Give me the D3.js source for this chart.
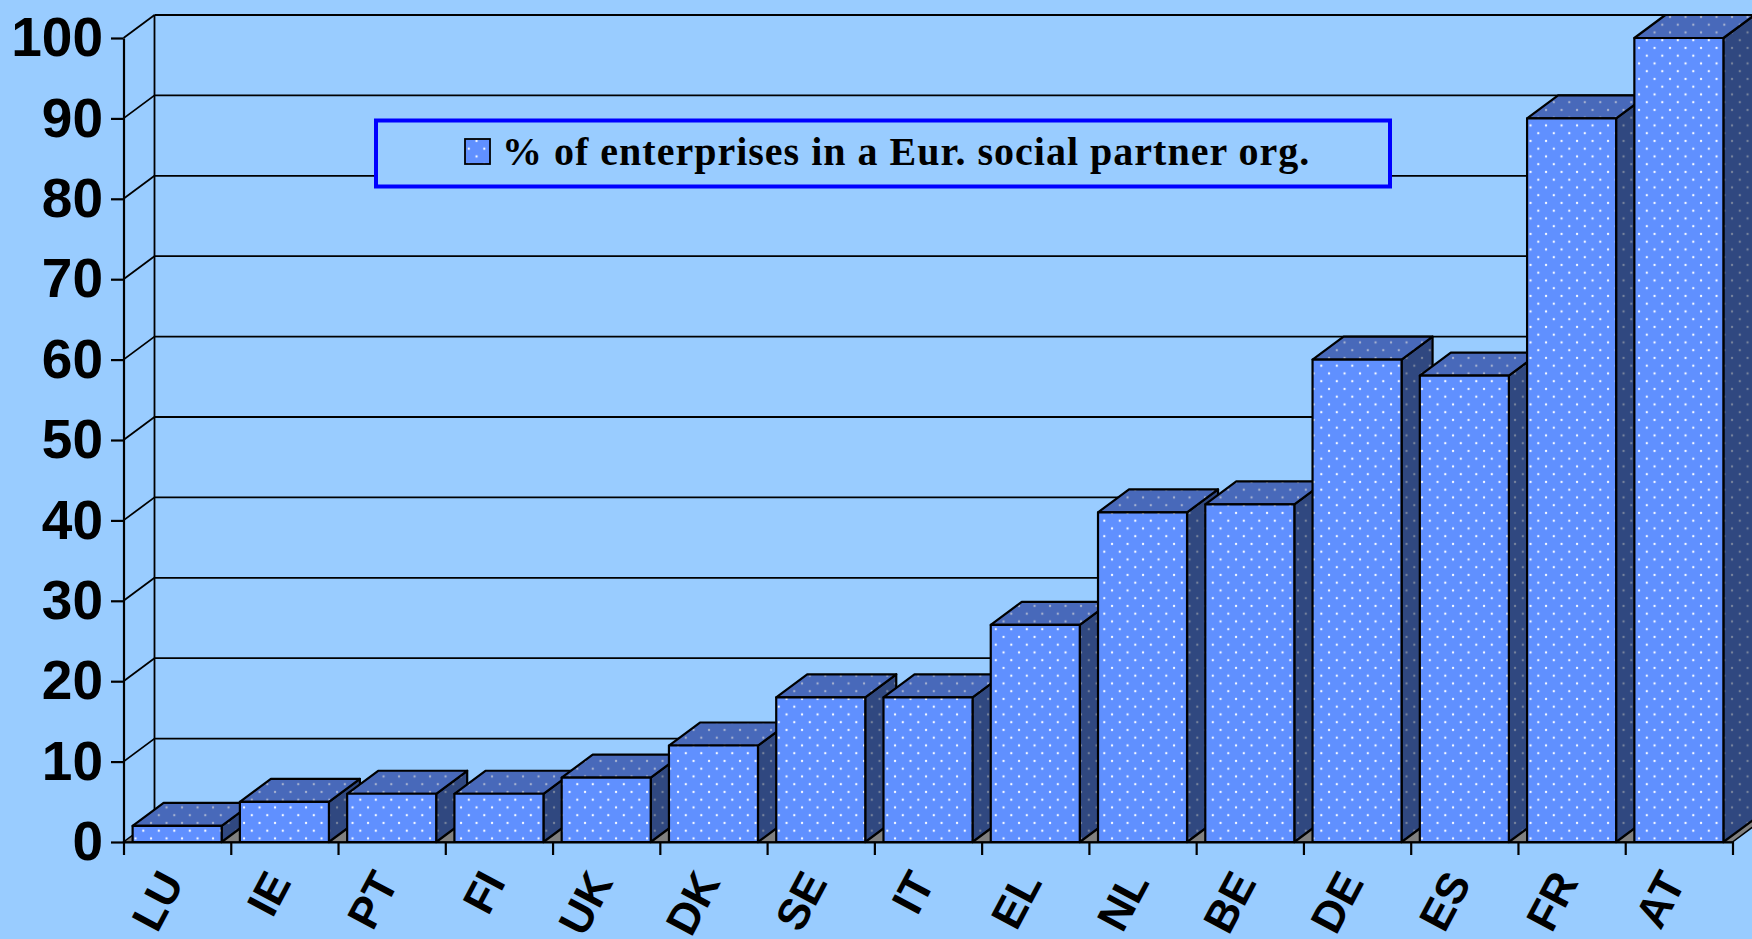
<!DOCTYPE html>
<html>
<head>
<meta charset="utf-8">
<script src="https://cdn.jsdelivr.net/npm/d3@7"></script>
<style>
  html, body { margin: 0; padding: 0; background: #99ccff; overflow: hidden; }
  svg { display: block; }
</style>
</head>
<body>
<div id="chart"></div>
<script>
const countries = ["LU", "IE", "PT", "FI", "UK", "DK", "SE", "IT", "EL", "NL", "BE", "DE", "ES", "FR", "AT"];
const shares = [2, 5, 6, 6, 8, 12, 18, 18, 27, 41, 42, 60, 58, 90, 100];
const yTicks = [0, 10, 20, 30, 40, 50, 60, 70, 80, 90, 100];
const legendLabel = "% of enterprises in a Eur. social partner org.";

const width = 1752;
const height = 939;
// plot edges and the 3d offset of the back wall
const margin = { left: 123.5, right: 1732.5, bottom: 842, top: 38 };
const depthX = 31, depthY = -23;

const svg = d3.select("#chart").append("svg").attr("width", width).attr("height", height);
svg.append("rect").attr("width", width).attr("height", height).attr("fill", "#99ccff");

const xscale = d3.scaleBand().domain(countries).range([margin.left, margin.right]).paddingInner(0.17).paddingOuter(0.085);
const xEdge = d3.scaleLinear().domain([0, countries.length]).range([margin.left, margin.right]);
const yscale = d3.scaleLinear().domain([0, 100]).range([margin.bottom, margin.top]);

// dotted fills, same tile for every face
const defs = svg.append("defs");
function dots(id, fill, dot, dotSize) {
  const p = defs.append("pattern").attr("id", id).attr("patternUnits", "userSpaceOnUse")
    .attr("x", 143.3 - 3.9).attr("y", 830.7 - 3.9).attr("width", 15.5).attr("height", 15.5);
  p.append("rect").attr("width", 15.5).attr("height", 15.5).attr("fill", fill);
  p.append("circle").attr("cx", 3.9).attr("cy", 3.9).attr("r", dotSize).attr("fill", dot);
  p.append("circle").attr("cx", 11.65).attr("cy", 11.65).attr("r", dotSize).attr("fill", dot);
}
dots("front", "#6090ff", "#f4f8ff", 1.2);
dots("topFace", "#4869ba", "#a4b0d0", 1.2);
dots("sideFace", "#304880", "#76829c", 1.2);

const poly = (pts) => pts.map((p) => p.join(",")).join(" ");

// floor
svg.append("polygon")
  .attr("points", poly([[margin.left, margin.bottom], [margin.right, margin.bottom], [margin.right + depthX, margin.bottom + depthY], [margin.left + depthX, margin.bottom + depthY]]))
  .attr("fill", "#808080").attr("stroke", "#000").attr("stroke-width", 1.5);

// gridlines on the side wall and back wall
const grid = svg.append("g").attr("stroke", "#000").attr("stroke-width", 1.8);
grid.selectAll(".back").data(yTicks.slice(1)).join("line").attr("class", "back")
  .attr("x1", margin.left + depthX).attr("x2", width)
  .attr("y1", (d) => yscale(d) + depthY).attr("y2", (d) => yscale(d) + depthY);
grid.selectAll(".wall").data(yTicks.slice(1)).join("line").attr("class", "wall")
  .attr("x1", margin.left).attr("x2", margin.left + depthX)
  .attr("y1", (d) => yscale(d)).attr("y2", (d) => yscale(d) + depthY);
grid.append("line").attr("x1", margin.left + depthX).attr("x2", margin.left + depthX)
  .attr("y1", margin.top + depthY).attr("y2", margin.bottom + depthY);

// bars
const bars = svg.selectAll(".bar").data(countries.map((c, i) => ({ c, v: shares[i] }))).join("g").attr("class", "bar")
  .attr("stroke", "#000").attr("stroke-width", 2.2).attr("stroke-linejoin", "round");
bars.append("polygon").attr("fill", "url(#sideFace)").attr("points", (d) => {
  const x1 = xscale(d.c) + xscale.bandwidth();
  return poly([[x1, yscale(d.v)], [x1 + depthX, yscale(d.v) + depthY], [x1 + depthX, margin.bottom + depthY], [x1, margin.bottom]]);
});
bars.append("polygon").attr("fill", "url(#topFace)").attr("points", (d) => {
  const x0 = xscale(d.c), x1 = x0 + xscale.bandwidth(), y = yscale(d.v);
  return poly([[x0, y], [x0 + depthX, y + depthY], [x1 + depthX, y + depthY], [x1, y]]);
});
bars.append("rect").attr("fill", "url(#front)")
  .attr("x", (d) => xscale(d.c)).attr("width", xscale.bandwidth())
  .attr("y", (d) => yscale(d.v)).attr("height", (d) => margin.bottom - yscale(d.v));

// axes
const yAxis = d3.axisLeft(yscale).tickValues(yTicks).tickSize(12.5).tickSizeOuter(0).tickPadding(8);
const gY = svg.append("g").attr("transform", `translate(${margin.left},0)`).call(yAxis);
const xAxis = d3.axisBottom(xEdge).tickValues(d3.range(countries.length + 1)).tickFormat("").tickSize(13).tickSizeOuter(0);
const gX = svg.append("g").attr("transform", `translate(0,${margin.bottom})`).call(xAxis);
svg.selectAll(".domain, .tick line").attr("stroke", "#000").attr("stroke-width", 2.2);
gY.selectAll("text").attr("fill", "#000").attr("font-family", "'Liberation Sans', Arial, sans-serif")
  .attr("font-weight", "bold").attr("font-size", 55);

svg.append("g").selectAll("text").data(countries).join("text")
  .attr("transform", (d) => `translate(${xscale(d) + xscale.bandwidth() / 2 - 6},875) rotate(-62)`)
  .attr("text-anchor", "end").attr("dy", "0.35em")
  .attr("font-family", "'Liberation Sans', Arial, sans-serif").attr("font-weight", "bold").attr("font-size", 44)
  .attr("fill", "#000").text((d) => d);

// legend
const legend = svg.append("g");
legend.append("rect").attr("x", 376).attr("y", 120.5).attr("width", 1014).attr("height", 66)
  .attr("fill", "#99ccff").attr("stroke", "#0000ff").attr("stroke-width", 4);
legend.append("rect").attr("x", 465).attr("y", 139).attr("width", 25).attr("height", 25)
  .attr("fill", "url(#front)").attr("stroke", "#000").attr("stroke-width", 1.8);
legend.append("text").attr("x", 502).attr("y", 165)
  .attr("font-family", "'Liberation Serif', 'Times New Roman', serif").attr("font-weight", "bold").attr("font-size", 40)
  .attr("letter-spacing", 1).attr("fill", "#000").text(legendLabel);
</script>
</body>
</html>
